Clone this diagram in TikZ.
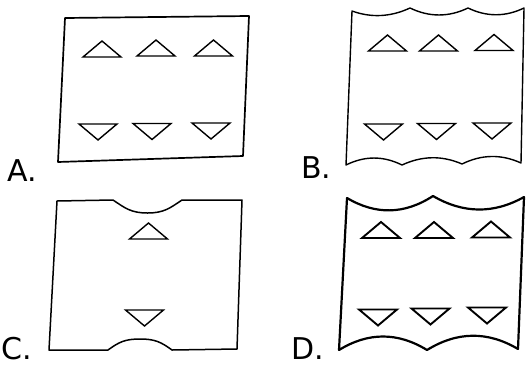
\documentclass[tikz,border=0pt]{standalone}
\usepackage{fontspec}
\setmainfont{DejaVu Sans}
\begin{document}
\begin{tikzpicture}[x=1pt,y=-1pt,
  outline/.style={line width=1.5pt,line join=round},
  tri/.style={line width=1.4pt,line join=miter},
  lab/.style={anchor=base west,inner sep=0pt,font=\fontsize{30}{34}\selectfont},
  tup/.pic={\draw[tri] (-19,0) -- (0,-16) -- (19,0) -- cycle;},
  tdn/.pic={\draw[tri] (-19,0) -- (0,16) -- (19,0) -- cycle;}]
\useasboundingbox (0,0) rectangle (526,367);

% ---------- A ----------
\draw[outline,line width=1.7pt] (65,18) -- (249,16) -- (243,156) -- (58,162) -- cycle;
\pic at (102,57) {tup};
\pic at (156,56) {tup};
\pic at (213.5,56) {tup};
\pic at (98,124) {tdn};
\pic at (152,123.5) {tdn};
\pic at (211,123) {tdn};
\node[lab] (la) at (7,181) {A.};

% ---------- B ----------
\draw[outline,line width=1.4pt] (352,11)
  .. controls (371.3,18) and (390.7,17) .. (410,8)
  .. controls (429.3,17.3) and (448.7,17.3) .. (468,8)
  .. controls (486.7,17) and (505.3,17) .. (524,8)
  -- (521,163)
  .. controls (501.3,154) and (481.7,154.3) .. (462,164)
  .. controls (442,155.3) and (422,155.7) .. (402,165)
  .. controls (383.3,155.7) and (364.7,155.7) .. (346,165)
  -- cycle;
\pic at (387.5,51) {tup};
\pic at (438.5,51) {tup};
\pic at (494,50.5) {tup};
\pic at (383.5,124) {tdn};
\pic at (436.5,123.5) {tdn};
\pic at (492,123) {tdn};
\node[lab] (lb) at (301,178) {B.};

% ---------- C ----------
\draw[outline] (57,201) -- (113,200)
  .. controls (125,208) and (131,213) .. (147.5,213)
  .. controls (164,213) and (170,208) .. (182,200)
  -- (242,200) -- (237,349) -- (172,350)
  .. controls (161,342) and (155,339) .. (140,339)
  .. controls (125,339) and (119,342) .. (108,350)
  -- (49,350) -- cycle;
\pic at (148.5,239) {tup};
\pic at (144.5,310) {tdn};
\node[lab] (lc) at (1,359) {C.};

% ---------- D ----------
\draw[outline,line width=2.2pt] (347,198)
  .. controls (375.7,215) and (404.3,214.6) .. (433,196)
  .. controls (463.3,213.7) and (493.7,214) .. (524,197)
  -- (518,349)
  .. controls (487.7,331) and (457.3,331.3) .. (427,350)
  .. controls (397.7,332) and (368.3,332) .. (339,350)
  -- cycle;
\begin{scope}[tri/.append style={line width=1.9pt}]
\pic at (381,238) {tup};
\pic at (434,238) {tup};
\pic at (491,237.5) {tup};
\pic at (378,309.5) {tdn};
\pic at (430.5,308.5) {tdn};
\pic at (487,307.5) {tdn};
\end{scope}
\node[lab] (ld) at (291,359) {D.};
\end{tikzpicture}
\end{document}
